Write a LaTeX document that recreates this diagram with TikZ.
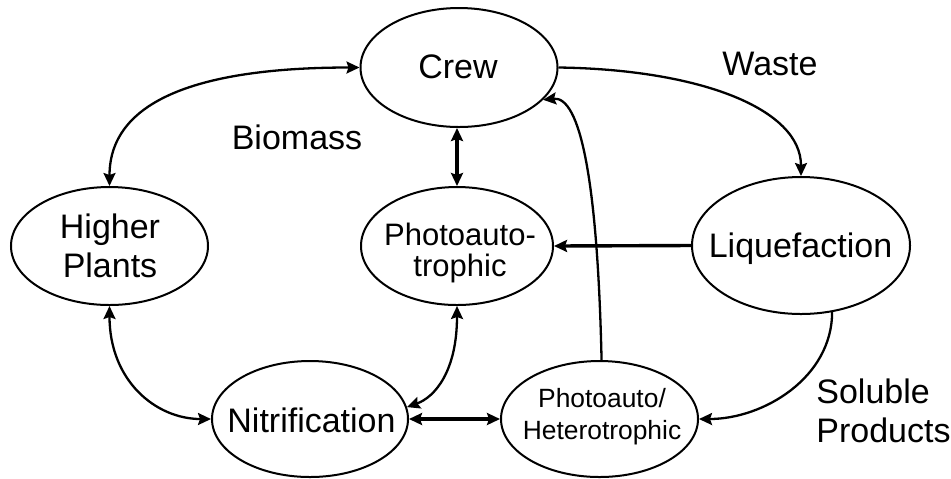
\documentclass[tikz,border=0pt]{standalone}
\usepackage{fontspec}
\setmainfont{Liberation Sans}
\usetikzlibrary{shapes.geometric,arrows.meta}
\begin{document}
\begin{tikzpicture}[x=0.5pt,y=-0.5pt,
  oval/.style={draw,ellipse,line width=1pt,inner sep=0pt},
  big/.style={font=\fontsize{17}{19.5}\selectfont,align=center,inner sep=0pt},
  mid/.style={font=\fontsize{15.5}{15.5}\selectfont,align=center,inner sep=0pt},
  small/.style={font=\fontsize{13.2}{16}\selectfont,align=center,inner sep=0pt},
  conn/.style={line width=1.15pt,>={Stealth[length=6.5pt,width=6pt,inset=1pt]}},
  thickconn/.style={conn,line width=1.7pt}]
\useasboundingbox (0,0) rectangle (951,478);

% ovals
\node[oval,minimum width=98.5pt,minimum height=59.5pt] (crew) at (459,67.5) {};
\node[oval,minimum width=98.5pt,minimum height=59pt] (hp) at (109.5,246) {};
\node[oval,minimum width=96pt,minimum height=59pt] (pa) at (457,246) {};
\node[oval,minimum width=109pt,minimum height=68.5pt] (liq) at (801,245.5) {};
\node[oval,minimum width=98pt,minimum height=58pt] (nit) at (310,419) {};
\node[oval,minimum width=98.5pt,minimum height=58pt] (ph) at (599.5,419) {};

% texts inside ovals
\node[big,anchor=base] (crewt) at (458,78) {Crew};
\node[big] (hpt) at (110,245.5) {Higher\\Plants};
\node[mid] (pat) at (460,252.5) {Photoauto-\\trophic};
\node[big,anchor=base] (liqt) at (800.5,257) {Liquefaction};
\node[big,anchor=base] (nitt) at (311.5,432) {Nitrification};
\node[small] (pht) at (602,417) {Photoauto/\\Heterotrophic};

% free labels
\node[big,anchor=base] (biomass) at (297,149) {Biomass};
\node[big,anchor=base] (waste) at (770,75) {Waste};
\node[big,align=left,anchor=west] (soluble) at (816,410.7) {Soluble\\Products};

% connectors
\draw[conn,<->] (hp.north) .. controls +(0,-90) and +(-150,0) .. (crew.west);
\draw[conn,->] (crew.east) .. controls +(142,2) and +(0,-67) .. (liq.north);
\draw[thickconn,<->] (pa.north |- crew.south) -- (pa.north);
\draw[thickconn,->] (liq.west) -- (pa.east);
\draw[conn,->] (liq.-65) .. controls +(0,65) and +(65,0) .. (ph.east);
\draw[conn,->] (ph.88) .. controls +(-4,-180) and +(37,-4) .. (crew.-21);
\draw[conn,<->] (pa.south) .. controls +(0,65) and +(28,-10) .. (nit.7);
\draw[conn,<->] (hp.south) .. controls +(0,75) and +(-55,0) .. (nit.west);
\draw[thickconn,<->] (nit.east) -- (ph.west);
\end{tikzpicture}
\end{document}
